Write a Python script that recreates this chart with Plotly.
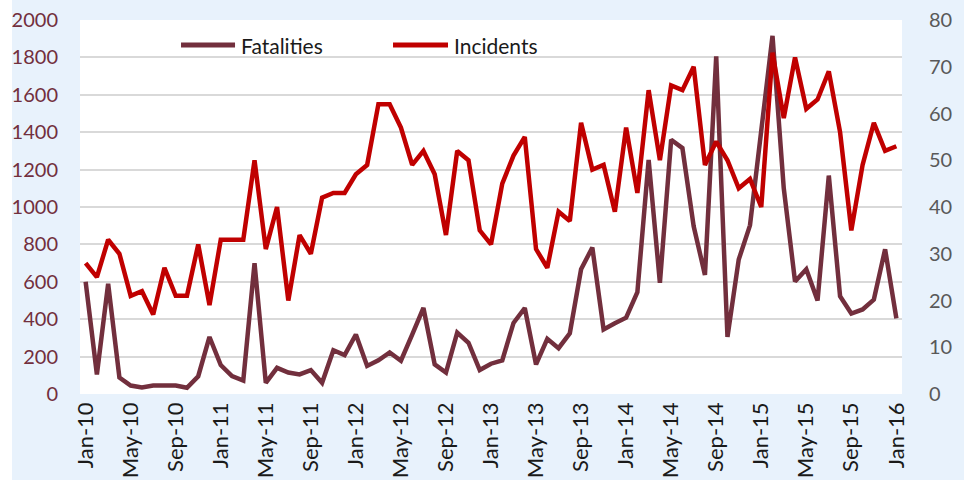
import pandas as pd
import plotly.graph_objects as go

months = pd.date_range("2010-01-01", periods=73, freq="MS").strftime("%b-%y").tolist()

fatalities = [600, 105, 590, 88, 45, 35, 45, 45, 45, 33,
              95, 305, 155, 96, 72, 700, 60, 140, 115, 105,
              128, 60, 234, 208, 318, 150, 180, 222, 178, 318,
              460, 158, 115, 328, 274, 128, 162, 180, 380, 460,
              158, 295, 245, 325, 667, 783, 345, 378, 408, 545,
              1252, 595, 1360, 1315, 897, 637, 1805, 305, 719, 902,
              1400, 1915, 1100, 602, 667, 500, 1168, 523, 430, 452,
              505, 774, 405]

incidents = [28, 25, 33, 30, 21, 22, 17, 27, 21, 21,
             32, 19, 33, 33, 33, 50, 31, 40, 20, 34,
             30, 42, 43, 43, 47, 49, 62, 62, 57, 49,
             52, 47, 34, 52, 50, 35, 32, 45, 51, 55,
             31, 27, 39, 37, 58, 48, 49, 39, 57, 43,
             65, 50, 66, 65, 70, 49, 54, 50, 44, 46,
             40, 73, 59, 72, 61, 63, 69, 56, 35, 49,
             58, 52, 53]

tick_labels = months[::4]

FAT_COLOR = "#722F3D"
INC_COLOR = "#C00000"
BG = "#E8F2FC"
FONT = "Lato"

fig = go.Figure()
fig.add_trace(go.Scatter(x=months, y=fatalities, name="Fatalities", mode="lines",
                         line=dict(color=FAT_COLOR, width=4.5), yaxis="y"))
fig.add_trace(go.Scatter(x=months, y=incidents, name="Incidents", mode="lines",
                         line=dict(color=INC_COLOR, width=4.5), yaxis="y2"))

# custom legend (matching the long legend swatches)
legend_items = [("Fatalities", FAT_COLOR, 0.1229, 0.1886),
                ("Incidents", INC_COLOR, 0.3808, 0.4477)]
for name, color, x0, x1 in legend_items:
    fig.add_shape(type="line", xref="paper", yref="paper", x0=x0, x1=x1, y0=0.933, y1=0.933,
                  line=dict(color=color, width=5))
    fig.add_annotation(xref="paper", yref="paper", x=x1 + 0.005, y=0.933, text=name,
                       showarrow=False, xanchor="left", yanchor="middle",
                       font=dict(family=FONT, size=21, color="#1A1A1A"))

fig.update_layout(
    width=952, height=480,
    margin=dict(l=68, r=62, t=20, b=86, autoexpand=False),
    paper_bgcolor=BG, plot_bgcolor="white",
    showlegend=False,
    font=dict(family=FONT),
    xaxis=dict(type="category", range=[-0.5, 72.5], tickmode="array",
               tickvals=tick_labels, ticktext=tick_labels, tickangle=-90,
               showgrid=False, zeroline=False, showline=False, ticks="", automargin=False,
               ticklabelstandoff=3,
               tickfont=dict(family=FONT, size=22, color="#1A1A1A")),
    yaxis=dict(range=[0, 2000], dtick=200, showgrid=True, gridcolor="#D9D9D9", gridwidth=1.5,
               zeroline=False, showline=False, ticks="", ticklabelstandoff=21, automargin=False,
               tickfont=dict(family=FONT, size=20, color=FAT_COLOR)),
    yaxis2=dict(range=[0, 80], dtick=10, overlaying="y", side="right", showgrid=False,
                zeroline=False, showline=False, ticks="", ticklabelstandoff=26, automargin=False,
                tickfont=dict(family=FONT, size=20, color="#595959")),
)

fig.write_html("out.html",
               post_script="document.body.style.margin='0px 0px 0px 12px';document.body.style.background='white';")
